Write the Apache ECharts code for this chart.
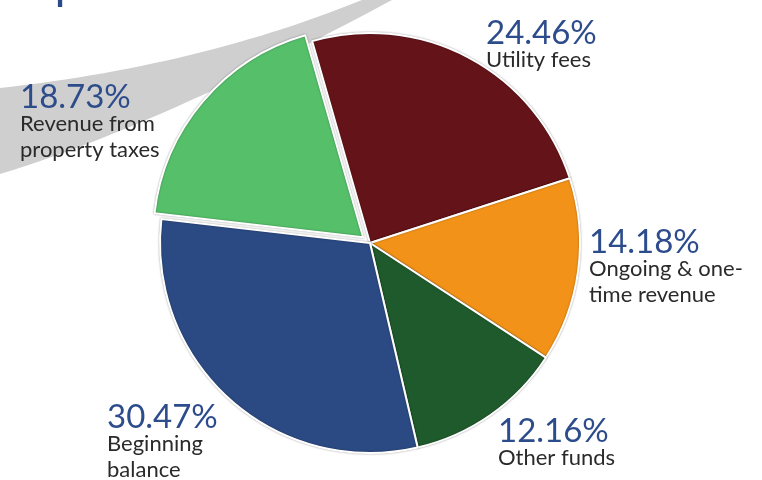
<!DOCTYPE html>
<html>
<head>
    <meta charset="utf-8">
    <title>Revenue pie</title>
    <script src="https://cdn.jsdelivr.net/npm/echarts@6/dist/echarts.min.js"></script>
    <style>
        html, body { margin: 0; padding: 0; background: #fff; }
    </style>
</head>
<body>
    <div id="main" style="width: 762px;height:480px;"></div>
    <script type="text/javascript">
        // slices, clockwise from the top
        const categories = ['Utility fees', 'Ongoing & one-\ntime revenue', 'Other funds', 'Beginning\nbalance', 'Revenue from\nproperty taxes'];
        const shares = [24.46, 14.18, 12.16, 30.47, 18.73];
        const sliceColors = ['#641419', '#f29218', '#1f5a2c', '#2b4a83', '#55bf69'];
        const exploded = [false, false, false, false, true];
        // where each label box starts (left, top)
        const labelPos = [[486, 19], [589, 228], [498, 417], [107, 403], [20, 83]];

        const pieCenter = [370, 243];
        const pieRadius = 210;
        const startAngle = 106;
        const explodeBy = 9;

        var myChart = echarts.init(document.getElementById('main'));

        // the pulled-out slice sits in a second pie, moved along its middle angle
        const total = shares.reduce((a, b) => a + b, 0);
        let before = 0;
        const ex = exploded.indexOf(true);
        for (let i = 0; i < ex; i++) before += shares[i];
        const midDeg = startAngle - (before + shares[ex] / 2) / total * 360;
        const exCenter = [
            pieCenter[0] + Math.cos(midDeg * Math.PI / 180) * explodeBy,
            pieCenter[1] - Math.sin(midDeg * Math.PI / 180) * explodeBy
        ];

        // grey swoosh in the corner: two bezier edges sampled into a polygon
        const bez = (p, t) => {
            const u = 1 - t;
            const w = p.length === 3 ? [u * u, 2 * u * t, t * t] : [u * u * u, 3 * u * u * t, 3 * u * t * t, t * t * t];
            return [0, 1].map(k => p.reduce((s, q, j) => s + q[k] * w[j], 0));
        };
        const swoosh = [];
        for (let i = 0; i <= 30; i++) swoosh.push(bez([[0, 88], [199, 66], [362, 0]], i / 30));
        for (let i = 0; i <= 30; i++) swoosh.push(bez([[392, 0], [280, 60], [130, 135], [0, 174]], i / 30));

        const hidden = { color: 'transparent', borderWidth: 0, shadowBlur: 0 };

        var option = {
            backgroundColor: '#fff',
            animation: false,
            graphic: [
                {
                    type: 'polygon',
                    z: 0,
                    shape: { points: swoosh },
                    style: { fill: '#cfcfcf' }
                },
                {
                    type: 'text',
                    z: 0,
                    x: 3,
                    y: 8,
                    style: {
                        text: 'Expected revenue',
                        fill: '#2b4a87',
                        font: '48px Lato',
                        verticalAlign: 'bottom'
                    }
                }
            ],
            series: [{
                type: 'pie',
                center: pieCenter,
                radius: pieRadius,
                startAngle: startAngle,
                data: categories.map((name, i) => ({
                    name: name,
                    value: shares[i],
                    itemStyle: exploded[i] ? hidden : { color: sliceColors[i] }
                })),
                itemStyle: {
                    borderColor: '#fff',
                    borderWidth: 2,
                    shadowBlur: 2,
                    shadowColor: 'rgba(0,0,0,0.35)'
                },
                emphasis: { disabled: true },
                labelLine: { show: false },
                label: {
                    show: true,
                    position: 'outside',
                    overflow: 'none',
                    formatter: (p) => '{p|' + p.value.toFixed(2) + '%}\n{n|' + p.name + '}',
                    rich: {
                        p: {
                            fontFamily: 'Lato',
                            fontSize: 33,
                            lineHeight: 28,
                            color: '#2d4c8c',
                            align: 'left'
                        },
                        n: {
                            fontFamily: 'Lato',
                            fontSize: 22,
                            lineHeight: 26,
                            color: '#2a2a2a',
                            align: 'left'
                        }
                    }
                },
                labelLayout: (params) => ({
                    x: labelPos[params.dataIndex][0],
                    y: labelPos[params.dataIndex][1],
                    align: 'left',
                    verticalAlign: 'top'
                })
            }, {
                type: 'pie',
                silent: true,
                center: exCenter,
                radius: pieRadius,
                startAngle: startAngle,
                data: categories.map((name, i) => ({
                    name: name,
                    value: shares[i],
                    itemStyle: exploded[i] ? { color: sliceColors[i] } : hidden
                })),
                itemStyle: {
                    borderColor: '#fff',
                    borderWidth: 2,
                    shadowBlur: 2,
                    shadowColor: 'rgba(0,0,0,0.35)'
                },
                label: { show: false },
                labelLine: { show: false }
            }]
        };

        myChart.setOption(option);
    </script>
</body>
</html>
